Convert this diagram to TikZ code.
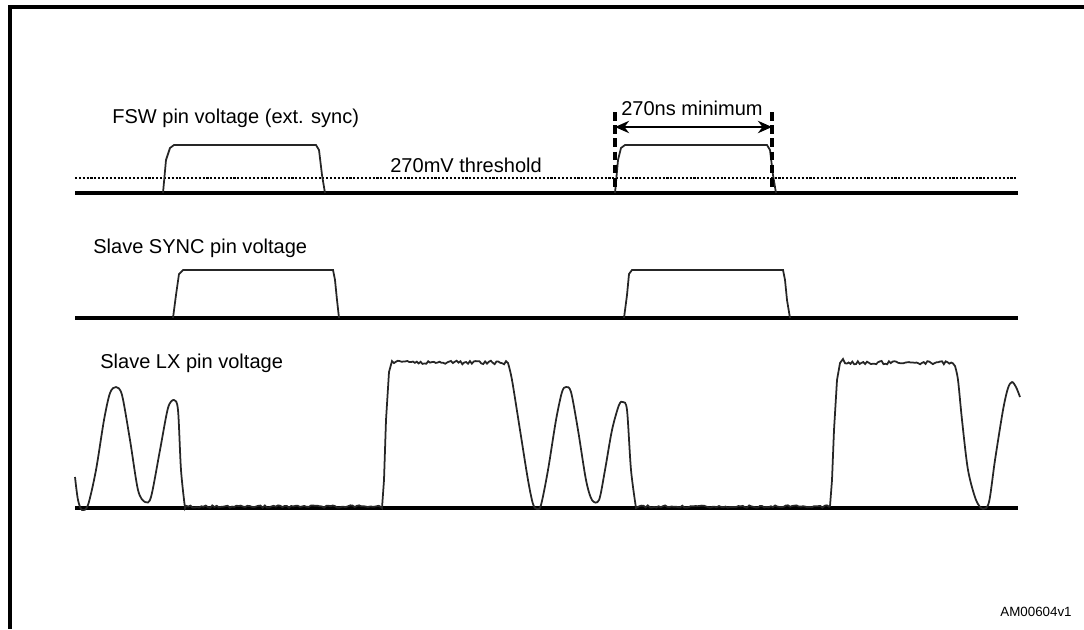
\documentclass[tikz,border=0pt]{standalone}
\usepackage{fontspec}
\setmainfont{Liberation Sans}
\usetikzlibrary{arrows.meta}

\begin{document}
\begin{tikzpicture}[x=0.02cm,y=-0.02cm,>={Stealth[length=8pt,width=7pt]},
    axis/.style={line width=2.1pt},
    wave/.style={line width=1pt,black!85},
    lbl/.style={font=\fontsize{11.4}{13}\selectfont,inner sep=0pt,anchor=west}]

\pgfmathsetseed{42}
\useasboundingbox (0,0) rectangle (1084,629);

% --------------------------------------------------
% Frame
% --------------------------------------------------
\draw[line width=2.2pt] (1084,7) -- (10,7) -- (10,629);

% --------------------------------------------------
% FSW pin voltage
% --------------------------------------------------
\node[lbl] (fswlbl) at (112,118) {FSW pin voltage (ext. sync)};
\draw[axis] (75,193) -- (1018,193);
\draw[line width=1.4pt,dash pattern=on 1.2pt off 1pt] (75,178) -- (1018,178);
\node[lbl] (thrlbl) at (390,165) {270mV threshold};

\draw[wave] (163,193) -- (166,160) -- (170,148) -- (174,145) -- (316,145)
    -- (319,150) -- (322,175) -- (325,193);
\draw[wave] (615,193) -- (618,160) -- (621,148) -- (625,145) -- (767,145)
    -- (770,150) -- (773,175) -- (776,193);

% minimum width marker
\coordinate (mintopl) at (615,112);
\coordinate (minbotl) at (615,190);
\coordinate (mintopr) at (772,112);
\coordinate (minbotr) at (772,190);
\draw[line width=1.8pt,dash pattern=on 5pt off 2.5pt] (mintopl) -- (minbotl);
\draw[line width=1.8pt,dash pattern=on 5pt off 2.5pt] (mintopr) -- (minbotr);
\coordinate (minl) at (615,127);
\coordinate (minr) at (772,127);
\draw[<->,line width=1.6pt] (minl) -- (minr);
\node[font=\fontsize{11.4}{13}\selectfont,inner sep=0pt] (minlbl) at (692,108) {270ns minimum};

% --------------------------------------------------
% Slave SYNC pin voltage
% --------------------------------------------------
\node[lbl] (synclbl) at (93,248) {Slave SYNC pin voltage};
\draw[axis] (75,318) -- (1018,318);
\draw[wave] (173,318) -- (176,295) -- (179,274) -- (183,270) -- (333,270)
    -- (335,280) -- (337,300) -- (339,318);
\draw[wave] (624,318) -- (627,295) -- (629,274) -- (632,270) -- (783,270)
    -- (785,280) -- (787,300) -- (790,318);

% --------------------------------------------------
% Slave LX pin voltage
% --------------------------------------------------
\node[lbl] (lxlbl) at (100,363) {Slave LX pin voltage};
\draw[axis] (75,508) -- (1018,508);

\draw[wave]
    plot[smooth] coordinates{
        (75,477) (78,500) (82,510) (88,505) (96,470) (104,420) (110,393)
        (116,387) (122,395) (130,440) (138,490) (145,502) (151,497)
        (160,450) (168,408) (174,400) (178,410) (181,470) (185,508)
    }
    -- plot[domain=186:381,samples=90] (\x,{506.5+1.2*rand})
    -- (382,508) -- (384,480) -- (386,420) -- (389,372) -- (392,361)
    -- plot[domain=394:506,samples=60] (\x,{362.5+1.8*rand})
    -- plot[smooth] coordinates{
        (508,363) (512,380) (520,430) (528,480) (533,504) (537,509)
        (541,505) (548,470) (556,420) (562,392) (566,387) (571,392)
        (578,430) (586,480) (592,500) (599,500) (605,470) (612,430)
        (619,405) (623,402) (627,410) (631,470) (636,508)
    }
    -- plot[domain=637:829,samples=90] (\x,{506.5+1.2*rand})
    -- (830,506) -- (832,480) -- (834,430) -- (837,380) -- (840,363) -- (843,359)
    -- plot[domain=845:953,samples=60] (\x,{362.5+1.8*rand})
    -- plot[smooth] coordinates{
        (955,366) (958,380) (962,420) (968,470) (976,500) (983,509)
        (989,502) (995,460) (1003,410) (1008,388) (1012,382) (1016,387)
        (1020,397)
    };

\node[font=\fontsize{7.6}{9}\selectfont,inner sep=0pt,anchor=east] (figid) at (1072,612) {AM00604v1};

\end{tikzpicture}
\end{document}
